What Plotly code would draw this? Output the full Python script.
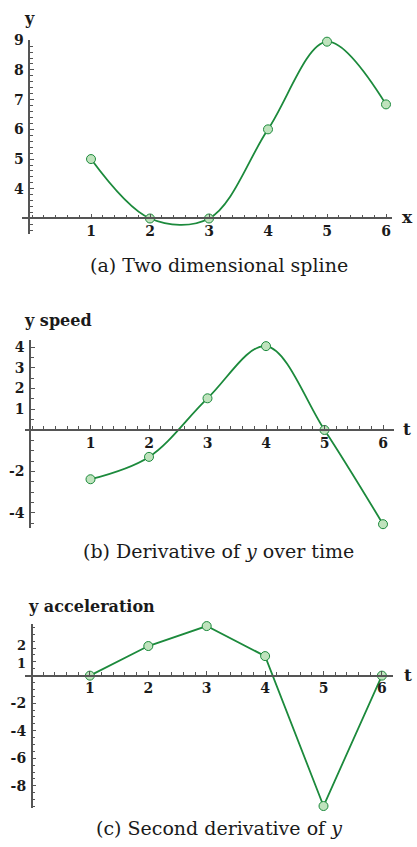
import plotly.graph_objects as go

W, H = 417, 847

# --- data -------------------------------------------------------------
t = [1, 2, 3, 4, 5, 6]
pos_y = [5, 3, 3, 6, 8.95, 6.84]                # spline knots
speed_y = [-2.38, -1.3, 1.53, 4.05, 0, -4.55]   # first derivative at knots
accel_y = [0, 2.15, 3.6, 1.42, -9.47, 0]        # second derivative at knots

x_ticks = [1, 2, 3, 4, 5, 6]
pos_ticks = [4, 5, 6, 7, 8, 9]
speed_ticks = [-4, -2, 1, 2, 3, 4]
accel_ticks = [-8, -6, -4, -2, 1, 2]
accel_small = [1, 2]   # crowded labels near the top of the last axis

captions = ["(a) Two dimensional spline",
            "(b) Derivative of <i>y</i> over time",
            "(c) Second derivative of <i>y</i>"]
y_titles = ["y", "y speed", "y acceleration"]
x_titles = ["x", "t", "t"]

# --- styling ----------------------------------------------------------
GREEN = "#1c8a3c"
FILL = "#bfe3bd"
AXIS = "#555555"
TXT = "#1a1a1a"
SERIF = "DejaVu Serif"

# pixel geometry of each panel: x px = b + a*x ; axis line extents
panels = [
    dict(a=59.0, b=32.0, xl=22, xr=392, y0px=212.5, y0=3.0, ppu=30.0, yt=32, yb=228, yax=29.3),
    dict(a=58.5, b=32.0, xl=25, xr=394, y0px=426.0, y0=0.0, ppu=20.9, yt=335, yb=525, yax=30.0),
    dict(a=58.4, b=31.5, xl=25, xr=393, y0px=674.0, y0=0.0, ppu=13.9, yt=622, yb=808, yax=31.7),
]
ydata = [pos_y, speed_y, accel_y]
yticks = [pos_ticks, speed_ticks, accel_ticks]
shapes_line = ["spline", "spline", "linear"]
y_minor = [0.2, 0.5, 0.5]

fig = go.Figure()
layout = dict(width=W, height=H, margin=dict(l=0, r=0, t=0, b=0),
              paper_bgcolor="white", plot_bgcolor="rgba(0,0,0,0)",
              showlegend=False, font=dict(family=SERIF, color=TXT))
annotations = []
tick_font = dict(family=SERIF, size=14, color=TXT, weight="bold")

for i, p in enumerate(panels):
    n = i + 1
    xa = "x" if n == 1 else f"x{n}"
    ya = "y" if n == 1 else f"y{n}"
    xkey = "xaxis" if n == 1 else f"xaxis{n}"
    ykey = "yaxis" if n == 1 else f"yaxis{n}"

    fig.add_trace(go.Scatter(
        x=t, y=ydata[i], xaxis=xa, yaxis=ya, mode="lines+markers",
        line=dict(color=GREEN, width=1.8, shape=shapes_line[i], smoothing=1.0),
        marker=dict(size=9, color=FILL, line=dict(color=GREEN, width=1)),
        cliponaxis=False, hoverinfo="skip"))

    xr0 = (p["xl"] - p["b"]) / p["a"]
    xr1 = (p["xr"] - p["b"]) / p["a"]
    yr1 = p["y0"] + (p["y0px"] - p["yt"]) / p["ppu"]
    yr0 = p["y0"] - (p["yb"] - p["y0px"]) / p["ppu"]

    layout[xkey] = dict(
        domain=[p["xl"] / W, p["xr"] / W], range=[xr0, xr1],
        anchor="free", position=1 - p["y0px"] / H,
        showline=True, linecolor=AXIS, linewidth=1.5,
        showgrid=False, zeroline=False,
        tickmode="array", tickvals=x_ticks, ticktext=[str(v) for v in x_ticks],
        ticks="inside", ticklen=4, tickwidth=1, tickcolor=AXIS,
        minor=dict(tickmode="linear", tick0=0, dtick=0.2, ticks="inside",
                   ticklen=3, tickwidth=1, tickcolor=AXIS, showgrid=False),
        tickfont=tick_font, fixedrange=True)

    # the two closely spaced labels on the last axis are set by hand below
    ytext = ["" if (n == 3 and v in accel_small) else str(v) for v in yticks[i]]
    layout[ykey] = dict(
        domain=[1 - p["yb"] / H, 1 - p["yt"] / H], range=[yr0, yr1],
        anchor="free", position=p["yax"] / W,
        showline=True, linecolor=AXIS, linewidth=1.5,
        showgrid=False, zeroline=False,
        tickmode="array", tickvals=yticks[i], ticktext=ytext,
        ticks="inside", ticklen=4, tickwidth=1, tickcolor=AXIS,
        minor=dict(tickmode="linear", tick0=0, dtick=y_minor[i], ticks="inside",
                   ticklen=3, tickwidth=1, tickcolor=AXIS, showgrid=False),
        tickfont=tick_font, ticklabelstandoff=2, fixedrange=True)

# labels "1" and "2" of the acceleration axis, nudged apart
p3 = panels[2]
for v, dy in zip(accel_small, [1.5, -2.5]):
    ypx = p3["y0px"] - v * p3["ppu"] + dy
    annotations.append(dict(text=f"<b>{v}</b>", x=(p3["yax"] - 4) / W, y=1 - ypx / H,
                            xref="paper", yref="paper", xanchor="right", yanchor="middle",
                            showarrow=False, font=dict(family=SERIF, size=13, color=TXT)))

# panel titles, axis letters and captions
title_pos = [(22, 11), (22, 315), (26, 604)]
for (x, y), s in zip(title_pos, y_titles):
    annotations.append(dict(text=f"<b>{s}</b>", x=x / W, y=1 - y / H,
                            xref="paper", yref="paper", xanchor="left", yanchor="middle",
                            showarrow=False, font=dict(family=SERIF, size=16, color=TXT)))
xlab_pos = [(407, 211), (407, 425), (408, 673)]
for (x, y), s in zip(xlab_pos, x_titles):
    annotations.append(dict(text=f"<b>{s}</b>", x=x / W, y=1 - y / H,
                            xref="paper", yref="paper", xanchor="center", yanchor="middle",
                            showarrow=False, font=dict(family=SERIF, size=17, color=TXT)))
cap_pos = [259, 548, 828]
for y, s in zip(cap_pos, captions):
    annotations.append(dict(text=s, x=219 / W, y=1 - y / H,
                            xref="paper", yref="paper", xanchor="center", yanchor="middle",
                            showarrow=False, font=dict(family=SERIF, size=19, color=TXT)))

layout["annotations"] = annotations
fig.update_layout(**layout)
fig.write_html("out.html", config=dict(displayModeBar=False))
